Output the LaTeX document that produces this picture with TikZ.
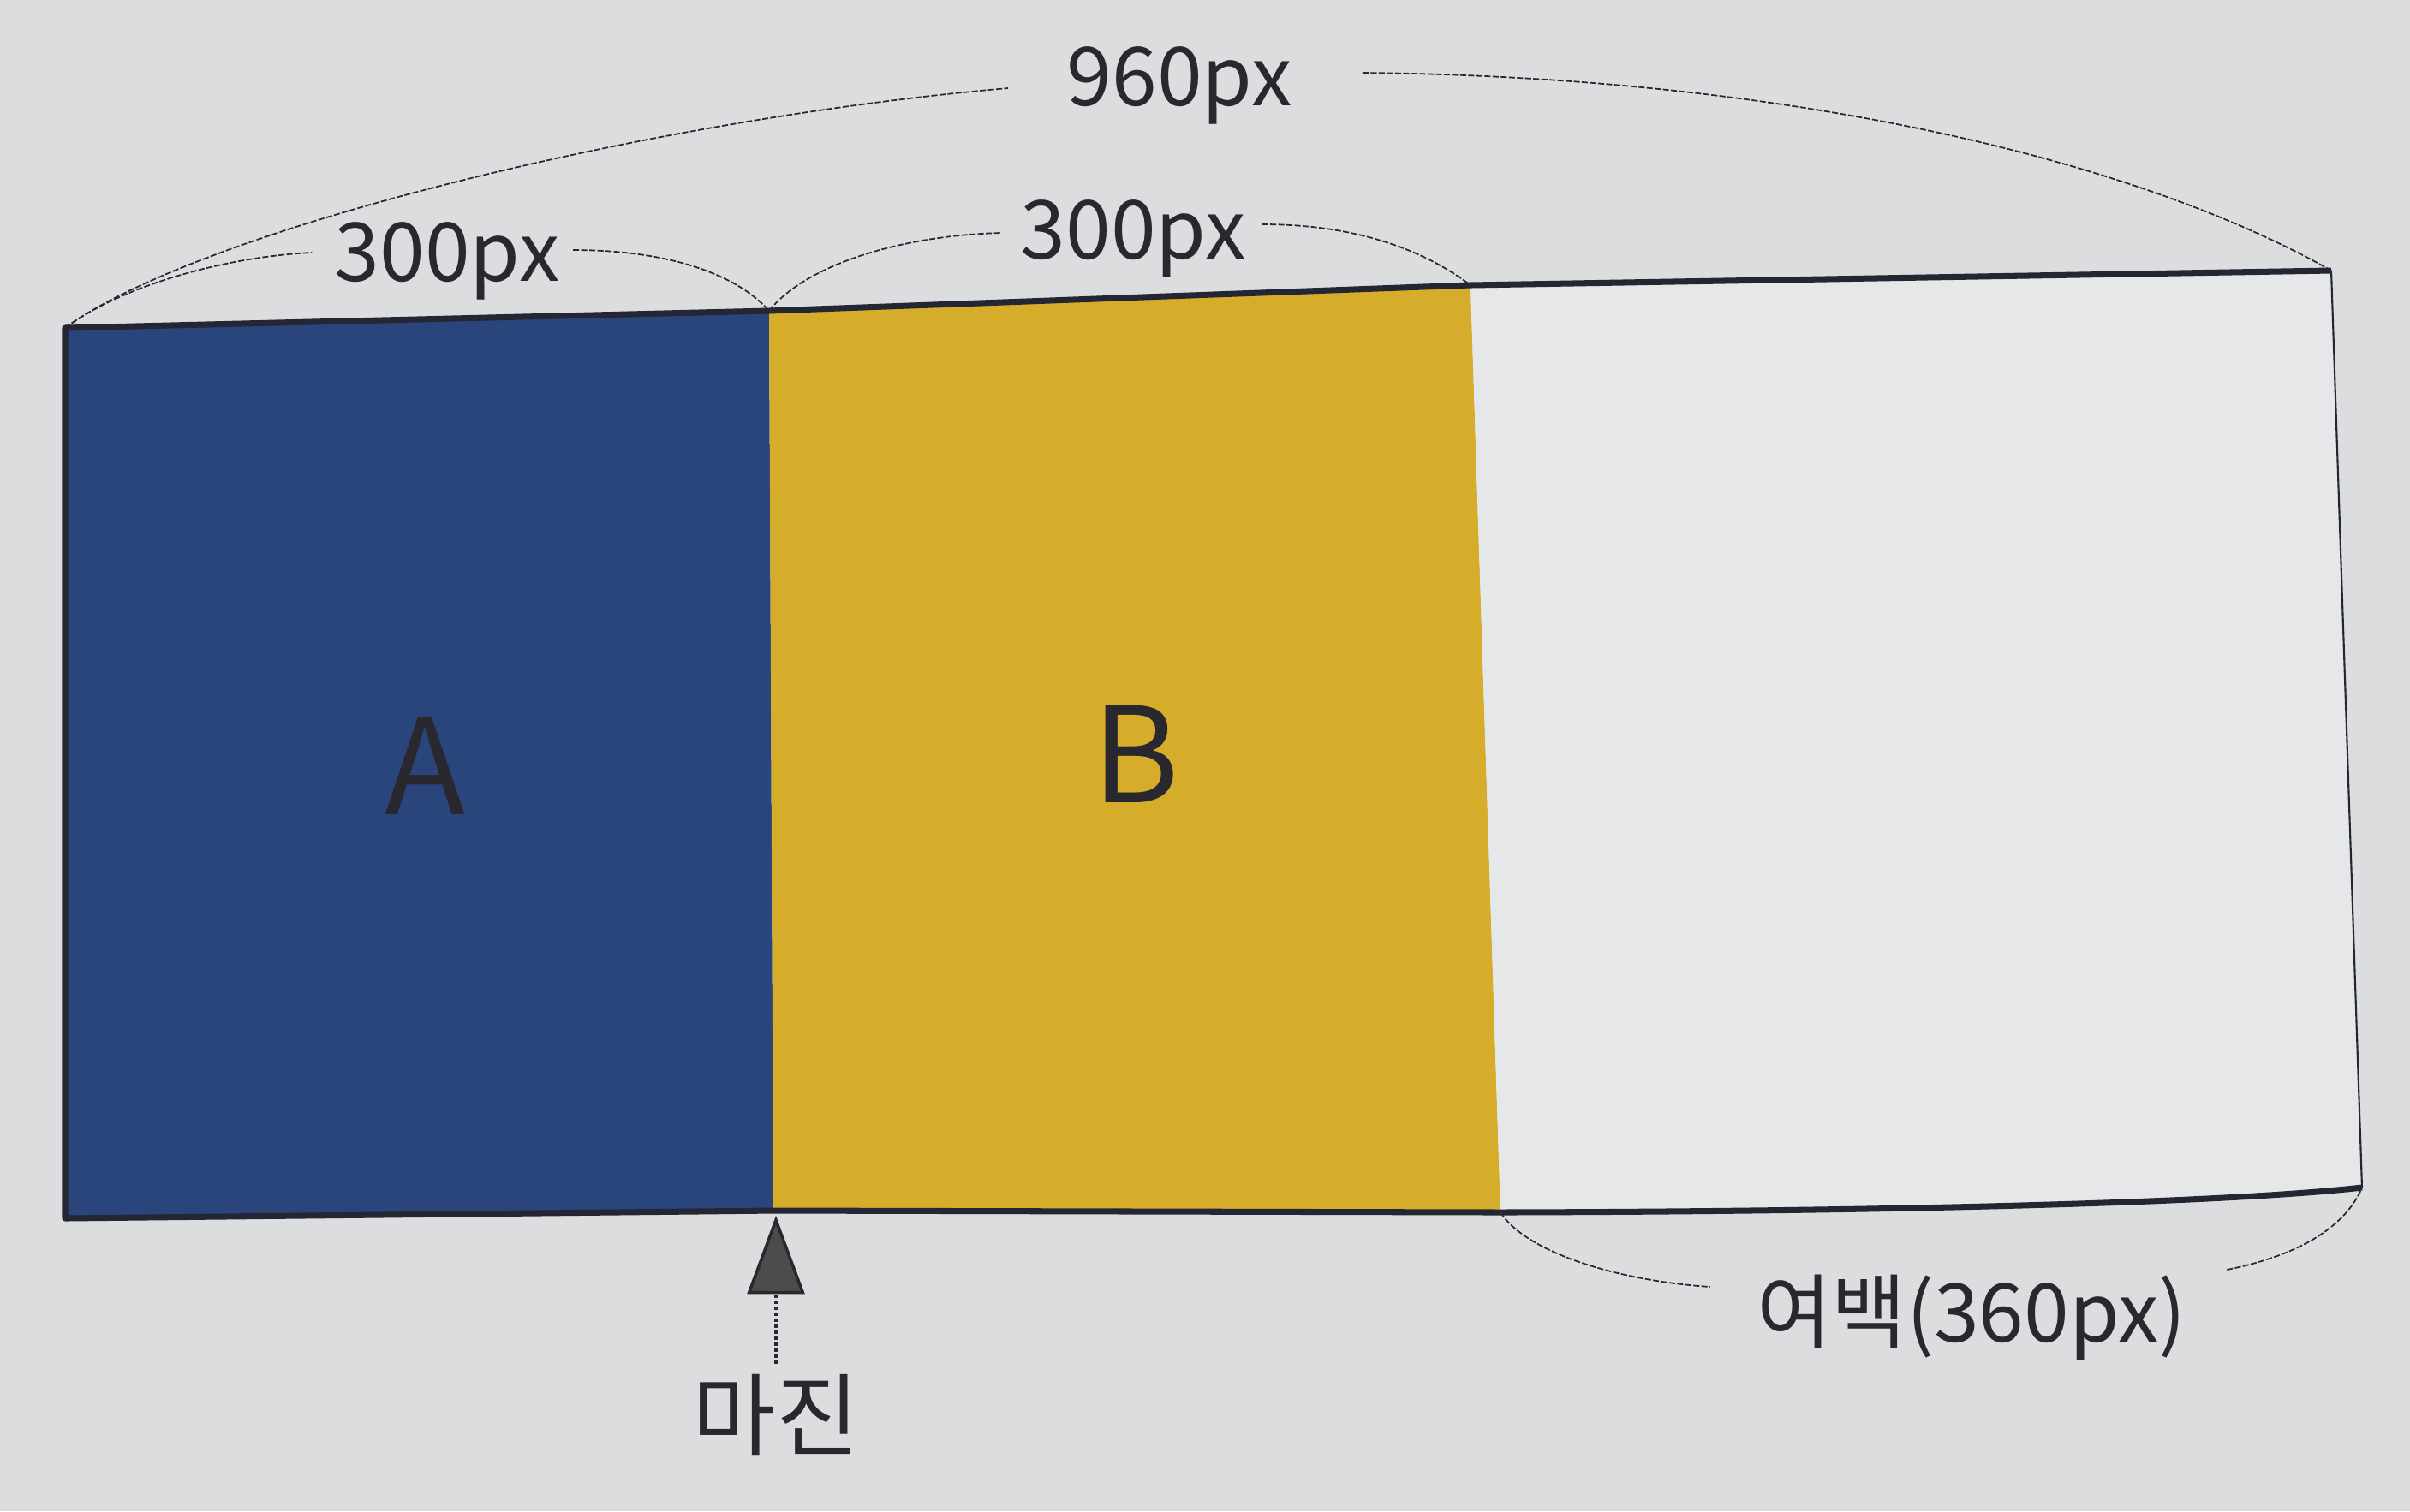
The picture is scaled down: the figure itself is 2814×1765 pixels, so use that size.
\documentclass[tikz,border=0pt]{standalone}
\usepackage{fontspec}
\setmainfont{Noto Sans CJK KR}
\usetikzlibrary{arrows.meta}
\definecolor{paper}{RGB}{219,221,223}
\definecolor{blankgray}{RGB}{229,231,233}
\definecolor{colblue}{RGB}{42,69,124}
\definecolor{colyellow}{RGB}{214,173,42}
\definecolor{framenavy}{RGB}{36,38,52}
\definecolor{inkgray}{RGB}{40,40,46}

\begin{document}
\begin{tikzpicture}[x=0.01cm, y=-0.01cm,
    dimlabel/.style={anchor=base, text=inkgray, font=\fontsize{27}{30}\selectfont},
    boxlabel/.style={anchor=base, text=inkgray, font=\fontsize{44}{48}\selectfont},
    brace/.style={draw=inkgray, line width=0.5pt, dash pattern=on 2pt off 0.7pt},
    frame/.style={draw=framenavy, line width=2pt, line join=round}]

    % page
    \fill[paper] (0,0) rectangle (2814,1765);
    \useasboundingbox (0,0) rectangle (2814,1765);

    % corners of the layout
    \coordinate (tl) at (76,383);
    \coordinate (abt) at (898,363);
    \coordinate (bwt) at (1717,333);
    \coordinate (tr) at (2722,316);
    \coordinate (bl) at (76,1423);
    \coordinate (abb) at (903,1414);
    \coordinate (bwb) at (1752,1416);
    \coordinate (br) at (2758,1387);
    \coordinate (mtip) at (906,1420);

    % columns
    \fill[colblue] (tl) -- (abt) -- (abb) -- (bl) -- cycle;
    \fill[colyellow] (abt) -- (bwt) -- (bwb) -- (abb) -- cycle;
    \fill[blankgray] (bwt) -- (tr) -- (br) .. controls (2600,1405) and (2200,1415) .. (bwb) -- cycle;

    % outline
    \draw[frame] (tr) -- (bwt) -- (abt) -- (tl) -- (bl) -- (abb) -- (bwb)
        .. controls (2200,1415) and (2600,1405) .. (br);
    \draw[framenavy, line width=0.6pt] (tr) -- (br);

    % labels
    \node[boxlabel] (boxA) at (497,951) {A};
    \node[boxlabel] (boxB) at (1326,937) {B};
    \node[dimlabel] (width960) at (1377,123) {960px};
    \node[dimlabel] (leftw) at (522,328) {300px};
    \node[dimlabel] (midw) at (1323,302) {300px};
    \node[dimlabel] (space) at (2302,1567) {여백(360px)};
    \node[text=inkgray, font=\fontsize{30}{34}\selectfont] (margin) at (906,1653) {마진};

    % dimension curves
    \draw[brace] (tl) .. controls (230,270) and (750,140) .. ([xshift=-16pt]width960.west |- 0,103);
    \draw[brace] ([xshift=20pt]width960.east |- 0,85) .. controls (2100,90) and (2500,190) .. (tr);
    \draw[brace] (tl) .. controls (140,335) and (260,300) .. ([xshift=-4pt]leftw.west |- 0,295);
    \draw[brace] ([xshift=1pt]leftw.east |- 0,292) .. controls (780,292) and (860,320) .. (abt);
    \draw[brace] (abt) .. controls (940,310) and (1050,275) .. ([xshift=-3pt]midw.west |- 0,272);
    \draw[brace] ([xshift=2pt]midw.east |- 0,262) .. controls (1580,262) and (1660,290) .. (bwt);
    \draw[brace] (bwb) .. controls (1780,1460) and (1880,1495) .. ([xshift=-12pt]space.west |- 0,1503);
    \draw[brace] ([xshift=10pt]space.east |- 0,1483) .. controls (2690,1465) and (2740,1430) .. (br);

    % margin pointer
    \draw[inkgray, line width=1pt, densely dotted, -{Triangle[length=26pt,width=19pt,fill=black!70]}] (margin.north) -- (mtip);
\end{tikzpicture}
\end{document}
